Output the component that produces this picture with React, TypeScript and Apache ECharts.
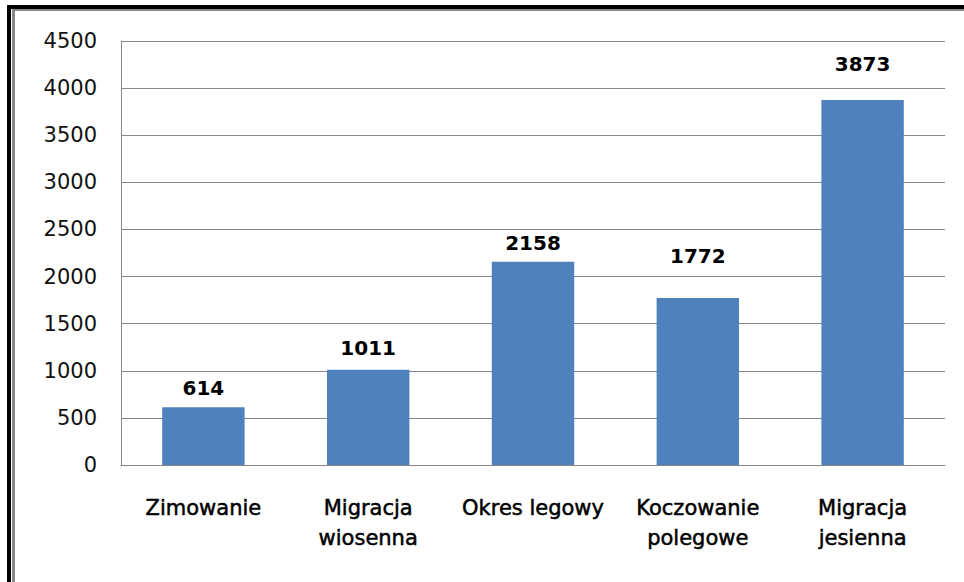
import React, { useEffect, useRef } from "react";
import * as echarts from "echarts";

const categories = [
  "Zimowanie",
  "Migracja\nwiosenna",
  "Okres legowy",
  "Koczowanie\npolegowe",
  "Migracja\njesienna",
];
const values = [614, 1011, 2158, 1772, 3873];
const yTicks = { min: 0, max: 4500, interval: 500 };
// label lift above each bar (style only)
const labelLift = [9, 12, 9, 32, 26];

export default function App() {
  const ref = useRef<HTMLDivElement>(null);
  useEffect(() => {
    if (!ref.current) return;
    const chart = echarts.init(ref.current, null, { renderer: "svg" });
    const font = "DejaVu Sans";
    chart.setOption({
      animation: false,
      backgroundColor: "#ffffff",
      grid: { left: 121, right: 19, top: 41, bottom: 117, containLabel: false },
      xAxis: {
        type: "category",
        data: categories,
        axisLine: { show: true, lineStyle: { color: "#868686", width: 1 } },
        axisTick: { show: false },
        axisLabel: {
          interval: 0,
          margin: 28,
          fontFamily: font,
          fontSize: 21,
          lineHeight: 30,
          color: "#000",
          textBorderColor: "#000",
          textBorderWidth: 0.5,
          verticalAlign: "top",
        },
      },
      yAxis: {
        type: "value",
        min: yTicks.min,
        max: yTicks.max,
        interval: yTicks.interval,
        axisLine: { show: true, lineStyle: { color: "#868686", width: 1 } },
        axisTick: { show: false },
        splitLine: { show: true, lineStyle: { color: "#868686", width: 1 } },
        axisLabel: {
          margin: 24,
          fontFamily: font,
          fontSize: 21,
          color: "#111",
          formatter: (v: number) => String(v),
        },
      },
      series: [
        {
          type: "bar",
          barWidth: "50%",
          itemStyle: { color: "#4F81BD" },
          data: values.map((v, i) => ({
            value: v,
            label: { distance: labelLift[i] },
          })),
          label: {
            show: true,
            position: "top",
            fontFamily: font,
            fontWeight: "bold",
            fontSize: 20,
            color: "#000",
          },
        },
      ],
      graphic: [
        { type: "rect", z: 100, shape: { x: 7, y: 5, width: 957, height: 4 }, style: { fill: "#000" } },
        { type: "rect", z: 100, shape: { x: 12, y: 9, width: 952, height: 2 }, style: { fill: "#888" } },
        { type: "rect", z: 100, shape: { x: 7, y: 5, width: 4, height: 577 }, style: { fill: "#000" } },
        { type: "rect", z: 100, shape: { x: 12, y: 9, width: 3, height: 573 }, style: { fill: "#888" } },
      ],
    });
    return () => chart.dispose();
  }, []);
  return (
    <div
      ref={ref}
      style={{ position: "fixed", left: 0, top: 0, width: 964, height: 582 }}
    />
  );
}
